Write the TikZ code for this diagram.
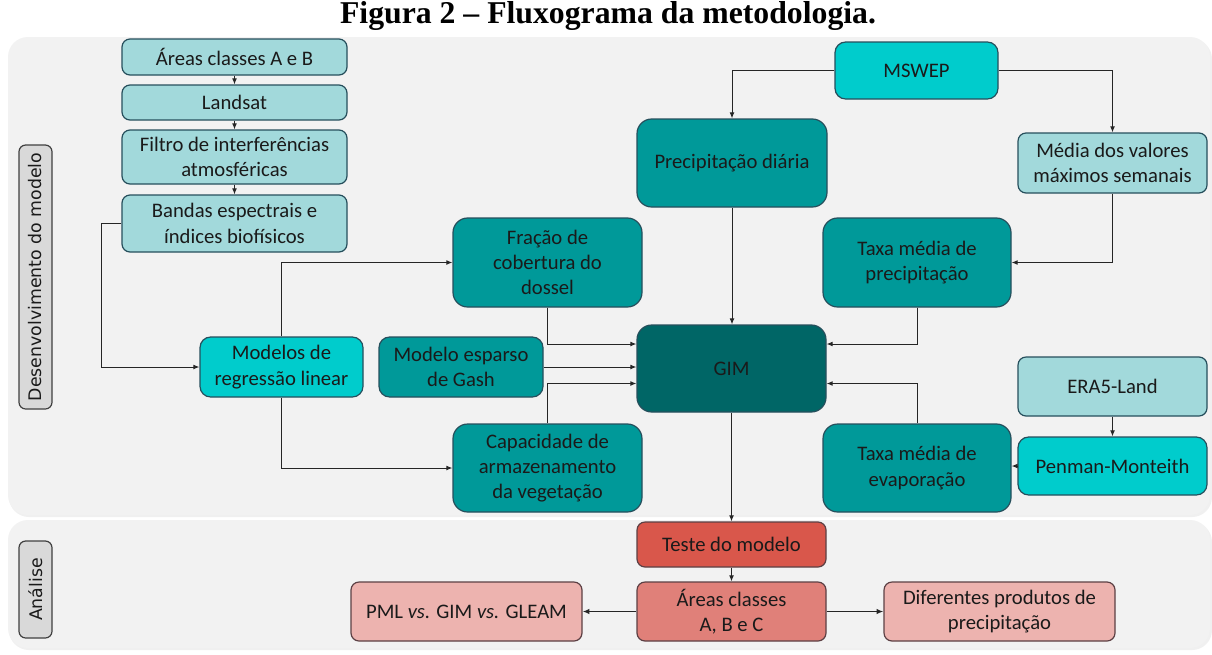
\documentclass[tikz,border=0pt]{standalone}
\usepackage{fontspec}
\setmainfont{Carlito}
\newfontfamily\titlefont{Liberation Serif}
\newfontfamily\labfont{DejaVu Sans}
\usetikzlibrary{calc,arrows.meta}
\definecolor{lteal}{HTML}{A2D9DB}
\definecolor{cyanb}{HTML}{00CCCC}
\definecolor{tealb}{HTML}{009999}
\definecolor{dteal}{HTML}{006666}
\definecolor{bord}{HTML}{264F5C}
\definecolor{redA}{HTML}{D9574B}
\definecolor{redB}{HTML}{E08079}
\definecolor{redC}{HTML}{EDB3AF}
\definecolor{rbord}{HTML}{5C4044}
\definecolor{panelc}{HTML}{F2F2F2}
\definecolor{labfill}{HTML}{D9D9D9}
\definecolor{txt}{HTML}{1A1A1A}
\begin{document}
\begin{tikzpicture}[x=0.75pt,y=-0.75pt,
  sz/.style 2 args={minimum width={#1*0.75pt}, minimum height={#2*0.75pt}},
  box/.style={draw=bord, line width=0.9pt, align=center, inner sep=0pt, text=txt,
    font=\fontsize{15.5}{19}\selectfont},
  lt/.style={box, fill=lteal, rounded corners=6pt},
  cy/.style={box, fill=cyanb, rounded corners=8pt},
  tl/.style={box, fill=tealb, rounded corners=11pt},
  dk/.style={box, fill=dteal, rounded corners=11pt},
  rA/.style={box, draw=rbord, fill=redA, rounded corners=6pt},
  rB/.style={box, draw=rbord, fill=redB, rounded corners=6pt},
  rC/.style={box, draw=rbord, fill=redC, rounded corners=6pt},
  lab/.style={draw=black!75, line width=0.9pt, fill=labfill, rounded corners=5pt,
    inner sep=0pt, text=txt, font=\labfont\fontsize{13}{15}\selectfont},
  arr/.style={-{Latex[length=4.5pt,width=3.6pt]}, line width=0.75pt, draw=black!85},
  arrb/.style={-{Latex[length=5pt,width=4pt]}, line width=1.1pt, draw=black!85}
]
\useasboundingbox (0,0) rectangle (1212,654);
\fill[white] (0,0) rectangle (1212,654);
% panels
\fill[black!6, rounded corners=15pt] (9,39) rectangle (1212,517);
\fill[panelc, rounded corners=15pt] (8,37) rectangle (1210,515);
\fill[black!6, rounded corners=15pt] (9,522) rectangle (1212,650);
\fill[panelc, rounded corners=15pt] (8,520) rectangle (1210,648);

\node[font=\titlefont\bfseries\fontsize{23.8}{28}\selectfont, anchor=base] (title) at (608,23) {Figura 2 – Fluxograma da metodologia.};

\node[lab, rotate=90, sz={264}{33}] (dev) at (35.5,277) {Desenvolvimento do modelo};
\node[lab, rotate=90, sz={97}{33}] (ana) at (35.5,589.5) {Análise};

% left column
\node[lt, sz={225}{36}] (areasAB) at (234.5,57) {Áreas classes A e B};
\node[lt, sz={225}{35}] (landsat) at (234.5,102.5) {Landsat};
\node[lt, sz={225}{54}] (filtro) at (234.5,157) {Filtro de interferências\\atmosféricas};
\node[lt, sz={225}{57}] (bandas) at (234.5,223.5) {Bandas espectrais e\\índices biofísicos};

\node[cy, sz={163}{57}] (mswep) at (916.5,70.5) {MSWEP};
\node[tl, sz={190}{88}] (precip) at (732,163) {Precipitação diária};
\node[lt, sz={189}{60}] (media) at (1112.5,163) {Média dos valores\\máximos semanais};

\node[tl, sz={189}{89}] (fracao) at (547.5,262.5) {Fração de\\cobertura do\\dossel};
\node[tl, sz={188}{89}] (taxap) at (917,262.5) {Taxa média de\\precipitação};

\node[cy, sz={163}{60}] (modelos) at (281.5,367) {Modelos de\\regressão linear};
\node[tl, sz={164}{60}, rounded corners=8pt] (gash) at (461,367) {Modelo esparso\\de Gash};
\node[dk, sz={189}{87}] (gim) at (731.5,368.5) {GIM};
\node[lt, sz={189}{59}] (era5) at (1112.5,386.5) {ERA5-Land};

\node[tl, sz={189}{88}] (capac) at (547.5,468) {Capacidade de\\armazenamento\\da vegetação};
\node[tl, sz={188}{88}] (taxae) at (917,468) {Taxa média de\\evaporação};
\node[cy, sz={189}{58}] (penman) at (1112.5,466) {Penman-Monteith};

\node[rA, sz={189}{45}] (teste) at (731.5,544.5) {Teste do modelo};
\node[rB, sz={189}{59}] (areasABC) at (731.5,611.5) {Áreas classes\\A, B e C};
\node[rC, sz={231}{59}] (pml) at (466.5,611.5) {PML \textit{vs.} GIM \textit{vs.} GLEAM};
\node[rC, sz={231}{59}] (dif) at (999.5,611.5) {Diferentes produtos de\\precipitação};

% connectors
\draw[arr] (areasAB) -- (landsat);
\draw[arr] (landsat) -- (filtro);
\draw[arr] (filtro) -- (bandas);
\draw[arr] (bandas.west) -- ++(-20,0) |- (modelos.west);
\draw[arr] (modelos.north) |- (fracao.west);
\draw[arr] (modelos.south) |- (capac.west);
\draw[arr] (mswep.west) -| (precip.north);
\draw[arr] (mswep.east) -| (media.north);
\draw[arr] (media.south) |- (taxap.east);
\draw[arr] (precip.south) -- (gim.north -| precip.south);
\draw[arr] (fracao.south) |- ($(gim.west)+(0,-24.5)$);
\draw[arr] (gash.east) -- (gash.east -| gim.west);
\draw[arr] (capac.north) |- ($(gim.west)+(0,15)$);
\draw[arr] (taxap.south) |- ($(gim.east)+(0,-24.5)$);
\draw[arr] (taxae.north) |- ($(gim.east)+(0,15)$);
\draw[arr] (era5.south) -- (penman.north);
\draw[arr] (penman.west) -- (penman.west -| taxae.east);
\draw[arr] (gim.south) -- (teste.north);
\draw[arr] (teste.south) -- (areasABC.north);
\draw[arrb] (areasABC.west) -- (pml.east);
\draw[arrb] (areasABC.east) -- (dif.west);
\end{tikzpicture}
\end{document}
